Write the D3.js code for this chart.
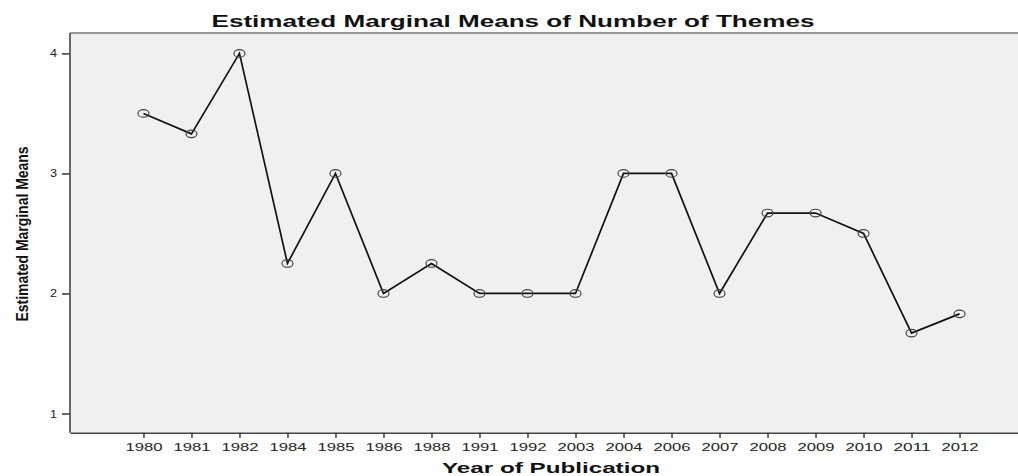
<!DOCTYPE html>
<html>
<head>
<meta charset="utf-8">
<script src="https://cdn.jsdelivr.net/npm/d3@7"></script>
<style>
  body { margin: 0; background: #fff; overflow: hidden; }
  svg { display: block; font-family: "Liberation Sans", Arial, sans-serif; }
</style>
</head>
<body>
<div id="chart"></div>
<script>
// data
const years = ["1980", "1981", "1982", "1984", "1985", "1986", "1988", "1991", "1992",
  "2003", "2004", "2006", "2007", "2008", "2009", "2010", "2011", "2012"];
const means = [3.5, 3.33, 4.0, 2.25, 3.0, 2.0, 2.25, 2.0, 2.0,
  2.0, 3.0, 3.0, 2.0, 2.67, 2.67, 2.5, 1.67, 1.83];
const yTicks = [1, 2, 3, 4];

const width = 1018;
const height = 476;
// plot frame (right side runs past the window, as in the original)
const plotLeft = 70, plotTop = 33, plotRight = 1033, plotBottom = 432.7;

const svg = d3.select("#chart").append("svg")
  .attr("width", width)
  .attr("height", height);

const x = d3.scalePoint().domain(years).range([plotLeft, plotRight]).padding(1.53);
const y = d3.scaleLinear().domain([0.84, 4.17]).range([plotBottom, plotTop]);

// plot background
svg.append("rect")
  .attr("x", plotLeft).attr("y", plotTop)
  .attr("width", plotRight - plotLeft).attr("height", plotBottom - plotTop)
  .attr("fill", "#f0f0f0");

// top border
svg.append("line")
  .attr("x1", plotLeft).attr("x2", plotRight)
  .attr("y1", plotTop).attr("y2", plotTop)
  .attr("stroke", "#777").attr("stroke-width", 1.5);

// x axis
const xAxis = svg.append("g")
  .attr("transform", `translate(0,${plotBottom})`)
  .call(d3.axisBottom(x).tickSizeInner(5).tickSizeOuter(0).tickPadding(6));
xAxis.select(".domain").attr("stroke", "#444").attr("stroke-width", 1.6);
xAxis.selectAll(".tick line").attr("stroke", "#444").attr("stroke-width", 1.6);
xAxis.selectAll(".tick text")
  .attr("fill", "#222")
  .attr("font-size", 11)
  .attr("textLength", 37)
  .attr("lengthAdjust", "spacingAndGlyphs");

// y axis
const yAxis = svg.append("g")
  .attr("transform", `translate(${plotLeft},0)`)
  .call(d3.axisLeft(y).tickValues(yTicks).tickFormat(d3.format("d"))
    .tickSizeInner(8).tickSizeOuter(0).tickPadding(5));
yAxis.select(".domain").attr("stroke", "#444").attr("stroke-width", 1.6)
  .attr("d", `M0,${plotTop}V${plotBottom}`);
yAxis.selectAll(".tick line").attr("stroke", "#444").attr("stroke-width", 1.6);
yAxis.selectAll(".tick text")
  .attr("fill", "#222")
  .attr("font-size", 11)
  .attr("textLength", 7)
  .attr("lengthAdjust", "spacingAndGlyphs");

// line
const line = d3.line()
  .x((d, i) => x(years[i]))
  .y(d => y(d));

svg.append("path")
  .datum(means)
  .attr("d", line)
  .attr("fill", "none")
  .attr("stroke", "#111")
  .attr("stroke-width", 1.7);

// markers
svg.selectAll("ellipse.pt")
  .data(means)
  .enter()
  .append("ellipse")
  .attr("class", "pt")
  .attr("cx", (d, i) => x(years[i]))
  .attr("cy", d => y(d))
  .attr("rx", 5.5)
  .attr("ry", 3.8)
  .attr("fill", "none")
  .attr("stroke", "#444")
  .attr("stroke-width", 1.2);

// title
svg.append("text")
  .attr("x", 513).attr("y", 27)
  .attr("text-anchor", "middle")
  .attr("font-size", 16)
  .attr("font-weight", "bold")
  .attr("fill", "#111")
  .attr("textLength", 603)
  .attr("lengthAdjust", "spacingAndGlyphs")
  .text("Estimated Marginal Means of Number of Themes");

// x axis title
svg.append("text")
  .attr("x", 551).attr("y", 473)
  .attr("text-anchor", "middle")
  .attr("font-size", 14.5)
  .attr("font-weight", "bold")
  .attr("fill", "#111")
  .attr("textLength", 218)
  .attr("lengthAdjust", "spacingAndGlyphs")
  .text("Year of Publication");

// y axis title
svg.append("text")
  .attr("transform", "translate(28,234) rotate(-90)")
  .attr("text-anchor", "middle")
  .attr("font-size", 16)
  .attr("font-weight", "bold")
  .attr("fill", "#111")
  .attr("textLength", 175)
  .attr("lengthAdjust", "spacingAndGlyphs")
  .text("Estimated Marginal Means");
</script>
</body>
</html>
